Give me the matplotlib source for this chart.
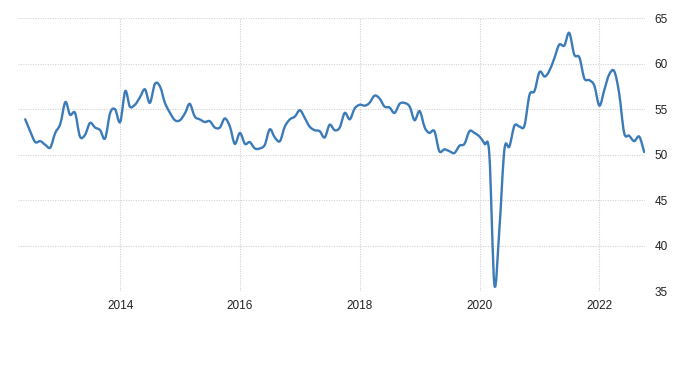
import matplotlib
matplotlib.use("Agg")
import matplotlib.pyplot as plt
import matplotlib.dates as mdates
from matplotlib.path import Path
from matplotlib.patches import PathPatch
import pandas as pd
import numpy as np

start_month = "2012-06-01"
values = [
    # 2012 Jun-Dec
    53.9, 52.6, 51.4, 51.5, 51.1, 50.8, 52.4,
    # 2013
    53.4, 55.8, 54.4, 54.6, 52.0, 52.2, 53.5, 53.0, 52.7, 51.8, 54.6, 55.0,
    # 2014
    53.6, 57.0, 55.3, 55.5, 56.3, 57.2, 55.7, 57.8, 57.5, 55.7, 54.6, 53.8,
    # 2015
    53.8, 54.6, 55.6, 54.2, 53.9, 53.6, 53.7, 53.0, 53.0, 54.0, 53.1, 51.2,
    # 2016
    52.4, 51.2, 51.4, 50.7, 50.7, 51.1, 52.8, 51.9, 51.5, 53.1, 53.9, 54.2,
    # 2017
    54.9, 54.0, 53.1, 52.7, 52.6, 51.9, 53.3, 52.7, 53.0, 54.6, 53.9, 55.1,
    # 2018
    55.5, 55.4, 55.7, 56.5, 56.2, 55.3, 55.2, 54.6, 55.6, 55.7, 55.3, 53.8,
    # 2019
    54.8, 53.0, 52.4, 52.6, 50.4, 50.6, 50.4, 50.2, 51.0, 51.2, 52.6, 52.4,
    # 2020
    52.0, 51.2, 50.0, 35.7, 41.8, 50.6, 50.9, 53.2, 53.1, 53.2, 56.6, 57.0,
    # 2021
    59.1, 58.6, 59.2, 60.6, 62.1, 62.0, 63.4, 61.0, 60.7, 58.4, 58.2, 57.6,
    # 2022
    55.4, 57.2, 58.8, 59.2, 56.8, 52.4, 52.1, 51.5, 52.0, 50.3,
]
dates = pd.date_range(start_month, periods=len(values), freq="MS")

tick_years = [2014, 2016, 2018, 2020, 2022]
y_ticks = [35, 40, 45, 50, 55, 60, 65]

plt.rcParams["font.family"] = ["Liberation Sans", "DejaVu Sans"]

fig = plt.figure(figsize=(7.0, 3.71), dpi=100)
ax = fig.add_axes([18 / 700, (371 - 291.3) / 371, (645 - 18) / 700, 273 / 371])

# Smooth spline-style rendering of the monthly series (Bezier segments through the data points)
xs = mdates.date2num(dates.to_pydatetime())
ys = np.asarray(values, dtype=float)
n = len(xs)
verts = [(xs[0], ys[0])]
codes = [Path.MOVETO]
k = 1.0 / 6.0
for i in range(n - 1):
    p0x, p0y = (xs[i - 1], ys[i - 1]) if i > 0 else (xs[i], ys[i])
    p1x, p1y = xs[i], ys[i]
    p2x, p2y = xs[i + 1], ys[i + 1]
    p3x, p3y = (xs[i + 2], ys[i + 2]) if i + 2 < n else (xs[i + 1], ys[i + 1])
    c1 = (p1x + (p2x - p0x) * k, p1y + (p2y - p0y) * k)
    c2 = (p2x - (p3x - p1x) * k, p2y - (p3y - p1y) * k)
    verts += [c1, c2, (p2x, p2y)]
    codes += [Path.CURVE4] * 3
path = Path(verts, codes)
ax.add_patch(PathPatch(path, facecolor="none", edgecolor="#3b7bb8", linewidth=1.7,
                       capstyle="round", joinstyle="round", zorder=3))

ax.set_ylim(35, 65)
ax.set_xlim(pd.Timestamp("2012-04-18"), pd.Timestamp("2022-10-06"))
ax.set_yticks(y_ticks)
ax.set_xticks([pd.Timestamp(f"{y}-01-01") for y in tick_years])
ax.set_xticklabels([str(y) for y in tick_years])

ax.yaxis.tick_right()
ax.tick_params(axis="both", length=0, labelsize=8.5, colors="#222222")
ax.tick_params(axis="y", pad=7)
ax.tick_params(axis="x", pad=6)

for s in ax.spines.values():
    s.set_visible(False)

ax.grid(True, which="major", axis="both", color="#d2d2d2", linestyle=(0, (1, 1.2)),
        linewidth=0.8, zorder=0)
ax.set_axisbelow(True)

fig.savefig("out.png", dpi=100)
